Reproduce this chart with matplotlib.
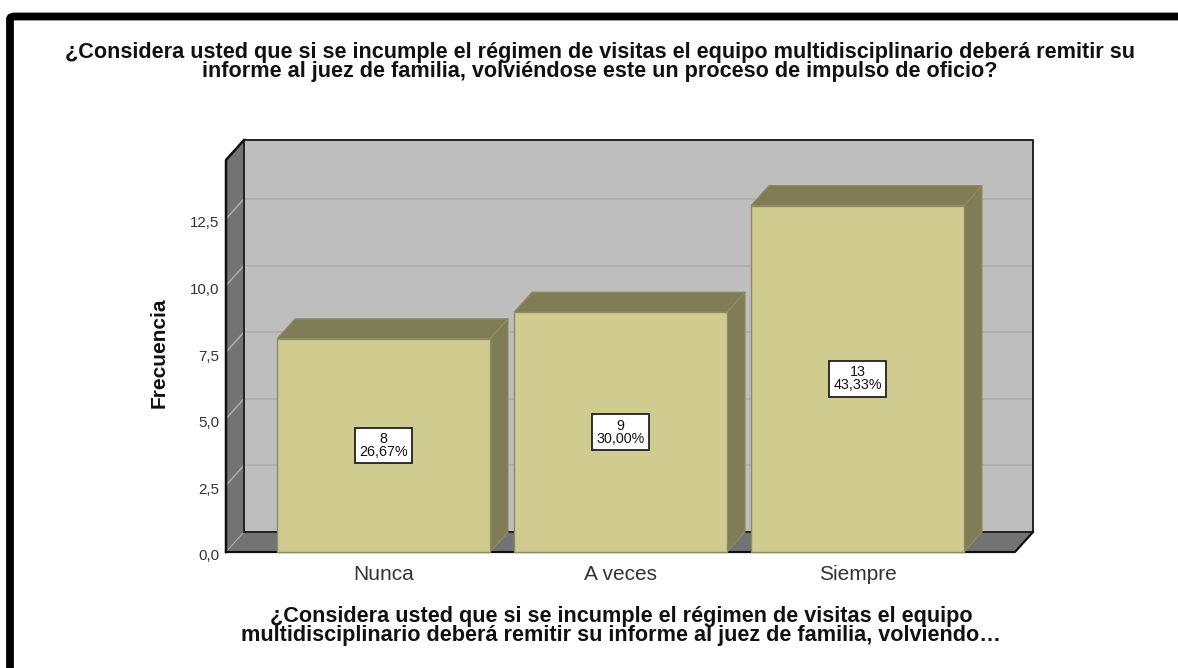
from matplotlib import pyplot as plt
from matplotlib.patches import FancyBboxPatch
from matplotlib.transforms import ScaledTranslation

categories = ['Nunca', 'A veces', 'Siempre']
counts = [8, 9, 13]
percents = ['26,67%', '30,00%', '43,33%']
y_ticks = [0, 2.5, 5, 7.5, 10, 12.5]
y_tick_labels = ['0,0', '2,5', '5,0', '7,5', '10,0', '12,5']
title = ('¿Considera usted que si se incumple el régimen de visitas el equipo multidisciplinario deberá remitir su\n'
         'informe al juez de familia, volviéndose este un proceso de impulso de oficio?')
x_title = ('¿Considera usted que si se incumple el régimen de visitas el equipo\n'
           'multidisciplinario deberá remitir su informe al juez de familia, volviendo…')

W, H = 1178, 668
WALL = '#bebebe'
DARK_WALL = '#737373'
BAR = '#d0cb8e'
BAR_DARK = '#807d56'
BAR_EDGE = '#8f8c62'

plt.rcParams['font.family'] = ['Liberation Sans', 'DejaVu Sans']

fig = plt.figure(figsize=(W / 100, H / 100), dpi=100)

# black frame, only top and left show, the rest runs off the picture
fig.add_artist(FancyBboxPatch((10 / W, 1 - 800 / H), 1400 / W, 783.5 / H,
                              boxstyle='round,pad=0,rounding_size=0.004',
                              transform=fig.transFigure, fc='none', ec='black', lw=5.6))

# axes = front plane of the fake 3d box
ax = fig.add_axes([226 / W, 1 - 552 / H, (1015 - 226) / W, (552 - 160) / H])
ax.set_xlim(-0.6646, 2.6646)
ax.set_ylim(0, 14.71)
ax.patch.set_visible(False)
for s in ax.spines.values():
    s.set_visible(False)

dx = 18 / 237  # depth in category units
dy = 20 / 26.65  # depth in value units
bar_w = 213 / 237
x0, x1 = ax.get_xlim()
y1 = ax.get_ylim()[1]

# back wall, left wall, floor
ax.fill([x0 + dx, x1 + dx, x1 + dx, x0 + dx], [dy, dy, y1 + dy, y1 + dy], fc=WALL, ec='none',
        clip_on=False, zorder=1)
ax.fill([x0, x0 + dx, x0 + dx, x0], [0, dy, y1 + dy, y1], fc=DARK_WALL, ec='none',
        clip_on=False, zorder=1)
ax.fill([x0, x1, x1 + dx, x0 + dx], [0, 0, dy, dy], fc=DARK_WALL, ec='none',
        clip_on=False, zorder=1)

# grid lines on both walls
for t in y_ticks[1:]:
    ax.plot([x0 + dx, x1 + dx], [t + dy, t + dy], color='#b0b0b0', lw=1.4, clip_on=False, zorder=2,
            solid_capstyle='butt')
    ax.plot([x0, x0 + dx], [t, t + dy], color='#a8a8a8', lw=1.2, clip_on=False, zorder=2)
ax.plot([x0, x0 + dx], [0, dy], color='#a8a8a8', lw=0.8, clip_on=False, zorder=2)

# box outlines go over the grid
ax.plot([x0 + dx, x0 + dx, x1 + dx, x1 + dx, x0 + dx], [dy, y1 + dy, y1 + dy, dy, dy], color='#222222', lw=1.4,
        clip_on=False, zorder=2.5)
ax.plot([x0, x0, x0 + dx], [0, y1, y1 + dy], color='#111111', lw=1.8, clip_on=False, zorder=2.5)
ax.plot([x0, x1, x1 + dx], [0, 0, dy], color='#111111', lw=1.6, clip_on=False, zorder=2.5)

# bars
positions = range(len(categories))
for i, v in zip(positions, counts):
    left = i - bar_w / 2
    right = i + bar_w / 2
    ax.fill([left, right, right + dx, left + dx], [v, v, v + dy, v + dy],
            fc=BAR_DARK, ec=BAR_EDGE, lw=0.8, clip_on=False, zorder=3)
    ax.fill([right, right + dx, right + dx, right], [0, dy, v + dy, v],
            fc=BAR_DARK, ec=BAR_EDGE, lw=0.8, clip_on=False, zorder=3)
ax.bar(positions, counts, width=bar_w, color=BAR, edgecolor=BAR_EDGE, linewidth=1, zorder=4, clip_on=False)

for i, v, p in zip(positions, counts, percents):
    ax.text(i, v / 2, f'{v}\n{p}', ha='center', va='center', fontsize=10.3, color='#111111',
            linespacing=0.92, zorder=5,
            bbox=dict(boxstyle='square,pad=0.3', fc='white', ec='#222222', lw=1.3))

ax.set_xticks(list(positions), categories)
ax.set_yticks(y_ticks, y_tick_labels)
ax.tick_params(axis='x', length=0, pad=9, labelsize=15, labelcolor='#333333')
ax.tick_params(axis='y', length=0, pad=5, labelsize=10.9, labelcolor='#333333')
for lab in ax.get_yticklabels():
    lab.set_transform(lab.get_transform() + ScaledTranslation(0, -3 / 100, fig.dpi_scale_trans))

fig.text(600 / W, 1 - 62 / H, title, ha='center', va='center', fontsize=15.6, fontweight='bold',
         color='#111111', linespacing=0.82)
fig.text(621 / W, 1 - 626 / H, x_title, ha='center', va='center', fontsize=15.6, fontweight='bold',
         color='#111111', linespacing=0.82)
fig.text(159 / W, 1 - 353 / H, 'Frecuencia', rotation=90, ha='center', va='center', fontsize=15,
         fontweight='bold', color='#111111')

fig.savefig('out.png', dpi=100)
